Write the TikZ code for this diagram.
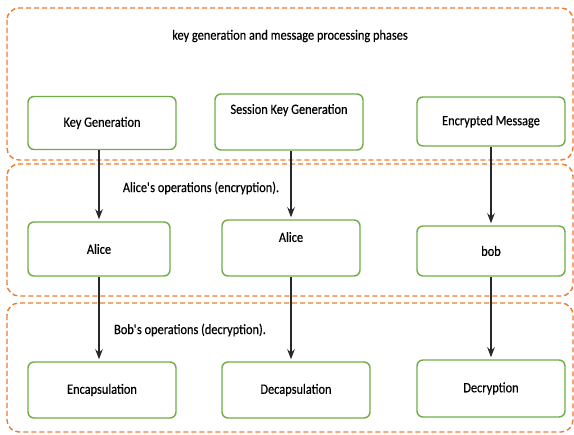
\documentclass[tikz,border=0pt]{standalone}
\usepackage{fontspec}
\setmainfont{Carlito}[FakeStretch=0.87,FakeBold=0.4]
\usetikzlibrary{arrows.meta,calc}
\definecolor{orng}{RGB}{237,125,49}
\definecolor{grn}{RGB}{112,173,71}
\definecolor{arrc}{RGB}{40,40,40}
\begin{document}
\begin{tikzpicture}[x=1pt,y=-1pt,
  phase/.style={draw=orng,line width=1.4pt,rounded corners=12pt,dash pattern=on 5pt off 3pt},
  box/.style={draw=grn,line width=1.4pt,rounded corners=6pt,fill=white,align=center,font=\fontsize{14.2}{16}\selectfont,inner sep=0pt},
  lbl/.style={font=\fontsize{14.2}{16}\selectfont,inner sep=0pt},
  arr/.style={draw=arrc,line width=1.8pt,-{Stealth[length=10pt,width=7.5pt]}}]
\useasboundingbox (0,0) rectangle (574,435);
\draw[phase] (7,8) rectangle (573,160);
\draw[phase] (7,164) rectangle (573,296);
\draw[phase] (7,303) rectangle (573,432);
\node[lbl] (t1) at (290,36) {key generation and message processing phases};
\node[lbl] (t2) at (201,188) {Alice\textquotesingle s operations (encryption).};
\node[lbl] (t3) at (190,330) {Bob\textquotesingle s operations (decryption).};
\node[box,minimum width=148pt,minimum height=53pt] (kg) at (102,123) {Key Generation};
\node[box,minimum width=148pt,minimum height=56pt] (skg) at (289,122) {Session Key Generation\\[10pt]};
\node[box,minimum width=148pt,minimum height=49pt] (em) at (491,121.5) {Encrypted Message};
\node[box,minimum width=142pt,minimum height=54pt] (a1) at (99,249) {Alice};
\node[box,minimum width=138pt,minimum height=56pt] (a2) at (291,248) {Alice\\[6pt]};
\node[box,minimum width=148pt,minimum height=50pt] (bob) at (491,251) {bob};
\node[box,minimum width=148pt,minimum height=56pt] (enc) at (102,390) {Encapsulation};
\node[box,minimum width=148pt,minimum height=56pt] (dec) at (296,390) {Decapsulation};
\node[box,minimum width=148pt,minimum height=57pt] (decr) at (491,388.5) {Decryption};
\draw[arr] (kg.south -| a1.north) -- ($(a1.north)+(0,-2)$);
\draw[arr] (skg.south -| a2.north) -- ($(a2.north)+(0,-2)$);
\draw[arr] (em.south -| bob.north) -- ($(bob.north)+(0,-2)$);
\draw[arr] (a1.south) -- ($(a1.south |- enc.north)+(0,-2)$);
\draw[arr] (a2.south) -- ($(a2.south |- dec.north)+(0,-2)$);
\draw[arr] (bob.south) -- ($(bob.south |- decr.north)+(0,-2)$);
\end{tikzpicture}
\end{document}
